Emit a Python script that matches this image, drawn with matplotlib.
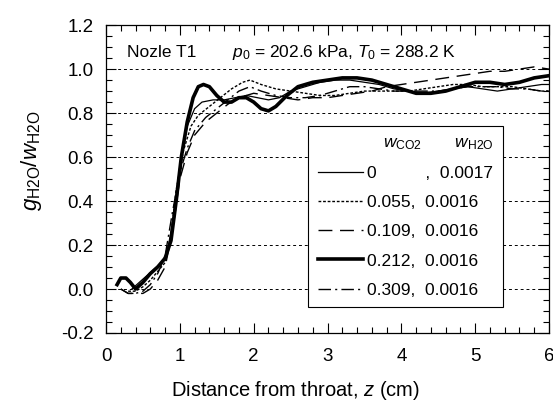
import matplotlib.pyplot as plt
from matplotlib.ticker import MultipleLocator

plt.rcParams['font.family'] = ['Liberation Sans', 'DejaVu Sans']
plt.rcParams['mathtext.fontset'] = 'custom'
plt.rcParams['mathtext.rm'] = 'Liberation Sans'
plt.rcParams['mathtext.it'] = 'Liberation Sans:italic'

# w_CO2 = 0
z_0 = [0.35, 0.45, 0.55, 0.65, 0.75, 0.82, 0.9, 1.0, 1.1, 1.2, 1.3, 1.45, 1.6, 1.75, 1.9,
       2.05, 2.2, 2.35, 2.5, 2.7, 2.9, 3.1, 3.3, 3.5, 3.7, 3.9, 4.1, 4.3, 4.5, 4.7,
       4.9, 5.1, 5.3, 5.5, 5.7, 5.9, 6.0]
g_0 = [0.0, 0.03, 0.06, 0.09, 0.12, 0.15, 0.3, 0.56, 0.74, 0.82, 0.85, 0.86, 0.86, 0.87, 0.88,
       0.87, 0.86, 0.87, 0.9, 0.92, 0.94, 0.95, 0.95, 0.94, 0.93, 0.91, 0.9, 0.89, 0.9, 0.91,
       0.92, 0.91, 0.9, 0.91, 0.92, 0.93, 0.93]

# w_CO2 = 0.055
z_055 = [0.3, 0.4, 0.5, 0.6, 0.7, 0.8, 0.87, 0.95, 1.05, 1.15, 1.25, 1.4, 1.55, 1.7, 1.85,
         1.95, 2.1, 2.3, 2.5, 2.7, 2.9, 3.1, 3.3, 3.5, 3.7, 3.9, 4.1, 4.3, 4.5, 4.7, 4.9,
         5.1, 5.3, 5.5, 5.7, 5.9, 6.0]
g_055 = [-0.01, -0.01, 0.01, 0.04, 0.08, 0.12, 0.22, 0.45, 0.63, 0.74, 0.79, 0.83, 0.87, 0.91, 0.94,
         0.95, 0.93, 0.91, 0.9, 0.89, 0.88, 0.88, 0.89, 0.9, 0.9, 0.9, 0.9, 0.91, 0.92, 0.93, 0.93,
         0.92, 0.92, 0.92, 0.91, 0.9, 0.9]

# w_CO2 = 0.109
z_109 = [0.2, 0.3, 0.4, 0.5, 0.6, 0.7, 0.8, 0.9, 1.0, 1.1, 1.2, 1.35, 1.5, 1.65, 1.8, 2.0,
         2.2, 2.4, 2.6, 2.8, 3.0, 3.2, 3.4, 3.6, 3.8, 4.0, 4.2, 4.4, 4.6, 4.8, 5.0, 5.2,
         5.4, 5.6, 5.8, 6.0]
g_109 = [0.0, -0.02, -0.02, -0.02, 0.0, 0.04, 0.1, 0.26, 0.5, 0.62, 0.7, 0.76, 0.8, 0.84, 0.87, 0.89,
         0.88, 0.87, 0.86, 0.87, 0.87, 0.88, 0.89, 0.9, 0.92, 0.93, 0.94, 0.95, 0.96, 0.97, 0.98, 0.99,
         0.99, 1.0, 1.01, 1.0]

# w_CO2 = 0.212
z_212 = [0.15, 0.2, 0.27, 0.33, 0.4, 0.5, 0.6, 0.7, 0.8, 0.88, 0.95, 1.02, 1.1, 1.18, 1.25,
         1.32, 1.4, 1.5, 1.6, 1.7, 1.8, 1.9, 2.0, 2.1, 2.2, 2.3, 2.45, 2.6, 2.8, 3.0, 3.2,
         3.4, 3.6, 3.8, 4.0, 4.2, 4.4, 4.6, 4.8, 5.0, 5.2, 5.4, 5.6, 5.8, 6.0]
g_212 = [0.02, 0.05, 0.05, 0.03, 0.0, 0.03, 0.07, 0.1, 0.14, 0.22, 0.4, 0.6, 0.76, 0.87, 0.92,
         0.93, 0.92, 0.88, 0.85, 0.85, 0.87, 0.87, 0.85, 0.82, 0.81, 0.83, 0.88, 0.92, 0.94, 0.95, 0.96,
         0.96, 0.95, 0.93, 0.91, 0.89, 0.89, 0.9, 0.92, 0.94, 0.94, 0.93, 0.94, 0.96, 0.97]

# w_CO2 = 0.309
z_309 = [0.2, 0.3, 0.4, 0.5, 0.6, 0.7, 0.8, 0.9, 1.0, 1.1, 1.2, 1.35, 1.5, 1.65, 1.8, 1.95,
         2.1, 2.3, 2.5, 2.7, 2.9, 3.1, 3.3, 3.5, 3.7, 3.9, 4.1, 4.3, 4.5, 4.7, 4.9, 5.1,
         5.3, 5.5, 5.7, 5.9, 6.0]
g_309 = [0.0, -0.02, -0.02, -0.01, 0.02, 0.07, 0.15, 0.35, 0.53, 0.64, 0.72, 0.78, 0.82, 0.86, 0.9, 0.92,
         0.9, 0.88, 0.87, 0.87, 0.88, 0.9, 0.92, 0.92, 0.91, 0.9, 0.9, 0.9, 0.9, 0.91, 0.92, 0.92,
         0.92, 0.91, 0.91, 0.9, 0.9]

labels = ['0          ,  0.0017', '0.055,  0.0016', '0.109,  0.0016',
          '0.212,  0.0016', '0.309,  0.0016']

fig = plt.figure(figsize=(5.53, 4.05), dpi=100)
ax = fig.add_axes([0.1917, 0.1778, 0.8011, 0.7602])

ax.plot(z_0, g_0, color='black', lw=0.9, label=labels[0])
ax.plot(z_055, g_055, color='black', lw=1.0, linestyle=(0, (2, 1.3)), label=labels[1])
ax.plot(z_109, g_109, color='black', lw=1.0, linestyle=(0, (10, 5.5)), label=labels[2])
ax.plot(z_212, g_212, color='black', lw=2.6, label=labels[3])
ax.plot(z_309, g_309, color='black', lw=1.0, linestyle=(0, (9, 3, 1.5, 3)), label=labels[4])

ax.set_xlim(0, 6)
ax.set_ylim(-0.2, 1.2)
ax.xaxis.set_minor_locator(MultipleLocator(0.2))
ax.yaxis.set_minor_locator(MultipleLocator(0.05))
ax.set_xticks([0, 1, 2, 3, 4, 5, 6])
ax.set_yticks([-0.2, 0.0, 0.2, 0.4, 0.6, 0.8, 1.0, 1.2])
ax.set_yticklabels(['-0.2', '0.0', '0.2', '0.4', '0.6', '0.8', '1.0', '1.2'])
ax.tick_params(which='both', direction='in', top=True, right=True, labelsize=13.5)
ax.tick_params(axis='x', pad=11)
ax.tick_params(axis='y', pad=9)
ax.tick_params(which='major', length=7, width=0.8)
ax.tick_params(which='minor', length=4, width=0.8)

for yv in [0.0, 0.2, 0.4, 0.6, 0.8, 1.0]:
    ax.axhline(yv, color='black', lw=0.7, linestyle=(0, (3, 3)), zorder=0)

for spine in ax.spines.values():
    spine.set_linewidth(0.9)

ax.set_xlabel('Distance from throat, $z$ (cm)', fontsize=14.5)
ax.xaxis.set_label_coords(0.427, -0.148)
ax.set_ylabel(r'$g_{\rm H2O}/w_{\rm H2O}$', fontsize=16)
ax.yaxis.set_label_coords(-0.14, 0.56)

ax.text(0.048, 0.912, 'Nozle T1', transform=ax.transAxes, fontsize=12.5, va='center')
ax.text(0.285, 0.912, r'$p_0$ = 202.6 kPa, $T_0$ = 288.2 K', transform=ax.transAxes,
        fontsize=12.5, va='center')

leg = ax.legend(loc='lower right', bbox_to_anchor=(0.896, 0.084), fontsize=12.5,
                title=r'$w_{\rm CO2}$       $w_{\rm H2O}$', title_fontsize=12.5,
                handlelength=2.6, handletextpad=0.25, labelspacing=0.8,
                fancybox=False, framealpha=1, edgecolor='black', borderpad=0.55,
                borderaxespad=0)
leg._legend_box.align = 'right'
leg.get_frame().set_linewidth(0.8)

fig.savefig('out.png', dpi=100)
